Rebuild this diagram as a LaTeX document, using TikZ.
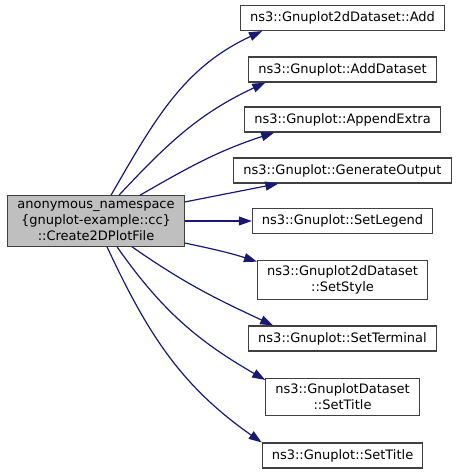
\documentclass[tikz,border=0pt]{standalone}
\usepackage{xcolor}
\usepackage{fontspec}
\setmainfont{DejaVu Sans}
\usepackage{tikz}
\usetikzlibrary{arrows.meta}

\definecolor{edgeblue}{HTML}{191970}
\definecolor{boxgray}{HTML}{BFBFBF}
\definecolor{boxline}{HTML}{404040}

\begin{document}
\begin{tikzpicture}[x=1pt, y=1pt,
	fn/.style={rectangle, draw=boxline, line width=1.1pt, fill=white, inner xsep=9.5pt, inner ysep=5.5pt,
		minimum height=25pt, align=center, font=\fontsize{13}{16}\selectfont},
	call/.style={draw=edgeblue, line width=1.2pt, -{Triangle[length=13pt, width=9pt, fill=edgeblue]}}]

	\useasboundingbox (0,0) rectangle (456,475);

	\node [fn, fill=boxgray] (main) at (96,254) {anonymous\_namespace\\\{gnuplot-example::cc\}\\::Create2DPlotFile};

	\node [fn] (add)            at (342.5,457)   {ns3::Gnuplot2dDataset::Add};
	\node [fn] (adddataset)     at (342.5,405.5) {ns3::Gnuplot::AddDataset};
	\node [fn] (appendextra)    at (342.5,355.5) {ns3::Gnuplot::AppendExtra};
	\node [fn] (generateoutput) at (342.5,304.5) {ns3::Gnuplot::GenerateOutput};
	\node [fn] (setlegend)      at (342.5,254)   {ns3::Gnuplot::SetLegend};
	\node [fn] (setstyle)       at (342.5,195)   {ns3::Gnuplot2dDataset\\::SetStyle};
	\node [fn] (setterminal)    at (342.5,136.5) {ns3::Gnuplot::SetTerminal};
	\node [fn] (dssettitle)     at (342.5,78)    {ns3::GnuplotDataset\\::SetTitle};
	\node [fn] (settitle)       at (342.5,19.5)  {ns3::Gnuplot::SetTitle};

	\draw [call] ([xshift=15pt]main.north) to [out=60, in=205] ([xshift=22pt]add.south west);
	\draw [call] ([xshift=23pt]main.north) to [out=47, in=205] ([xshift=17pt]adddataset.south west);
	\draw [call] ([xshift=44pt]main.north) to [out=30, in=198] ([xshift=30pt]appendextra.south west);
	\draw [call] ([yshift=19pt]main.east) -- ([xshift=45pt]generateoutput.south west);
	\draw [call] (main.east) -- (setlegend.west);
	\draw [call] ([yshift=-22pt]main.east) to [out=-12, in=162] ([yshift=-2pt]setstyle.north west);
	\draw [call] ([xshift=36pt]main.south) to [out=-35, in=155] ([xshift=25pt]setterminal.north west);
	\draw [call] ([xshift=21pt]main.south) to [out=-55, in=150] ([yshift=-2pt]dssettitle.north west);
	\draw [call] ([xshift=11pt]main.south) to [out=-65, in=145] (settitle.north west);

\end{tikzpicture}
\end{document}
